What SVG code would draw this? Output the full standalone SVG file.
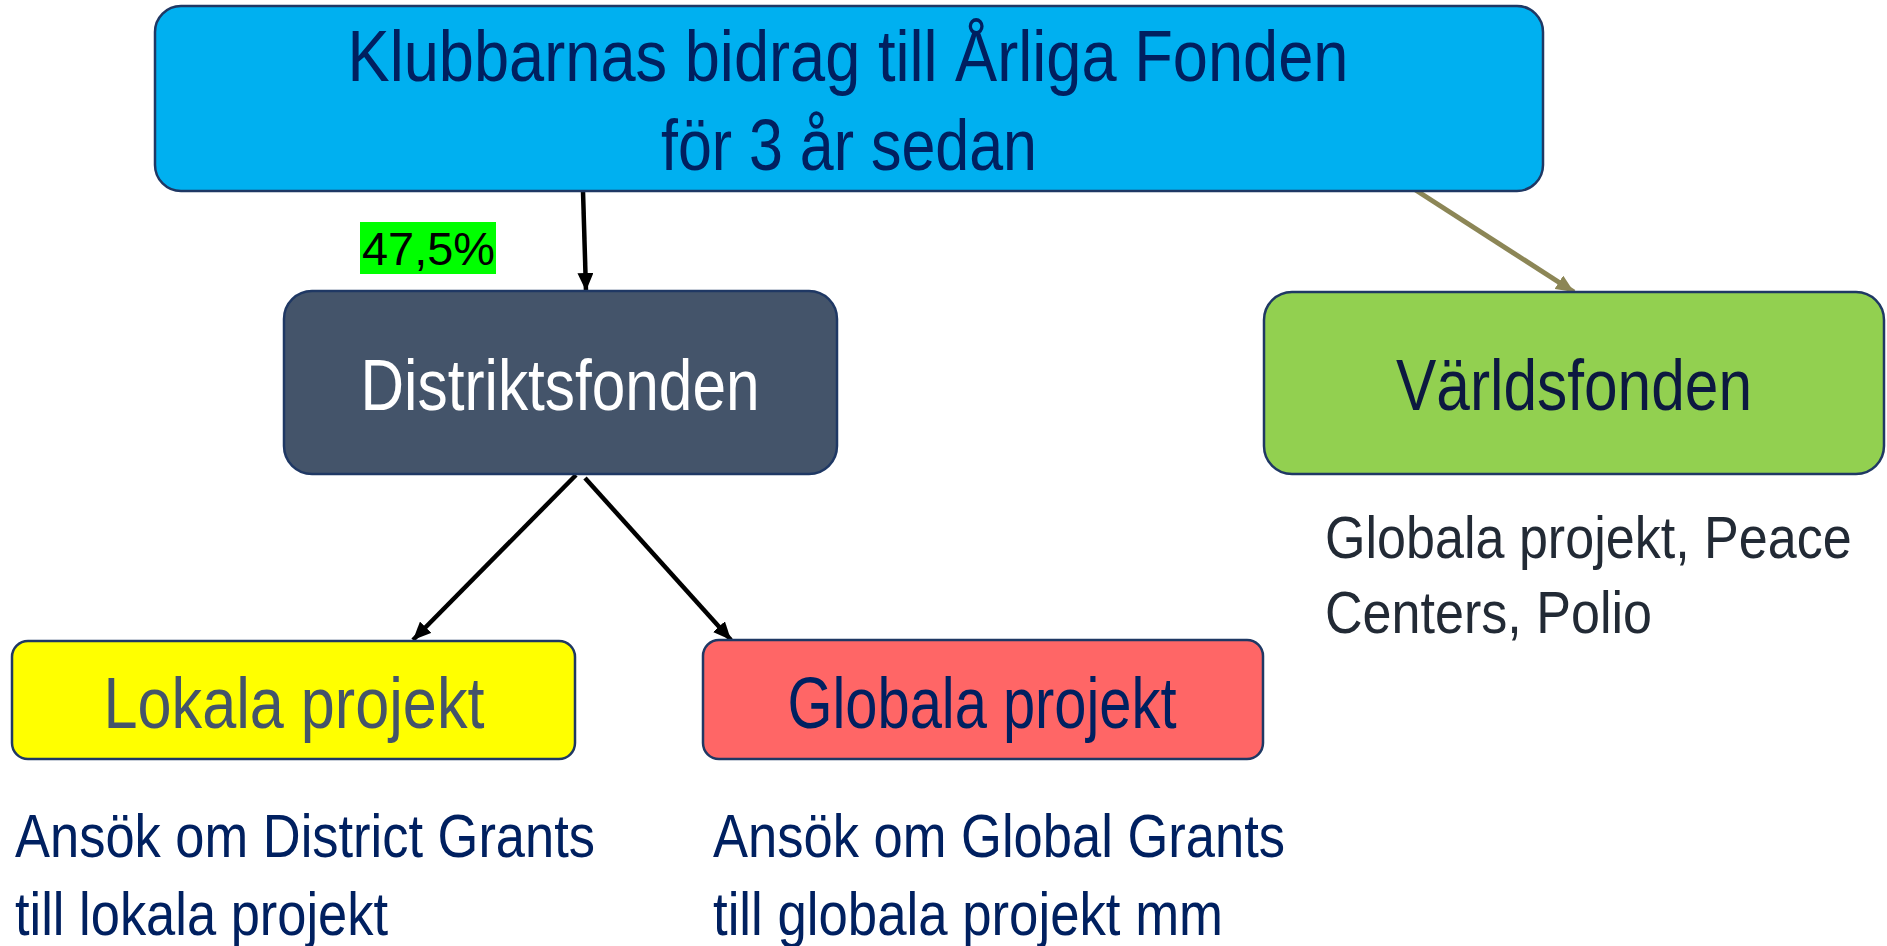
<svg xmlns="http://www.w3.org/2000/svg" width="1887" height="946" viewBox="0 0 1887 946">
<defs>
<style>
text{font-family:"Liberation Sans",Arial,sans-serif;}
.box{stroke:#1F3864;stroke-width:2.5;}
.big{font-size:72px;}
.sub{font-size:62px;fill:#002060;}
.conn{stroke:#000;stroke-width:4.5;fill:none;}
</style>
<marker id="ah" viewBox="0 0 18 16" refX="18" refY="8" markerWidth="18" markerHeight="16" markerUnits="userSpaceOnUse" orient="auto"><path d="M0,0 L18,8 L0,16 Z" fill="#000"/></marker>
<marker id="ah2" viewBox="0 0 18 16" refX="18" refY="8" markerWidth="18" markerHeight="16" markerUnits="userSpaceOnUse" orient="auto"><path d="M0,0 L18,8 L0,16 Z" fill="#8C8656"/></marker>
</defs>
<rect width="1887" height="946" fill="#fff"/>
<g id="connectors">
<line class="conn" x1="583" y1="191" x2="586" y2="291" marker-end="url(#ah)"/>
<line x1="1414" y1="189" x2="1574" y2="292" stroke="#8C8656" stroke-width="5" marker-end="url(#ah2)"/>
<line class="conn" x1="576" y1="475" x2="413" y2="640" marker-end="url(#ah)"/>
<line class="conn" x1="585" y1="478" x2="731" y2="640" marker-end="url(#ah)"/>
</g>
<g id="top">
<rect class="box" x="155" y="6" width="1388" height="185" rx="26" fill="#00B0F0"/>
<text x="848" y="81" text-anchor="middle" font-size="73" fill="#002060" textLength="1001" lengthAdjust="spacingAndGlyphs">Klubbarnas bidrag till Årliga Fonden</text>
<text x="849" y="170" text-anchor="middle" font-size="73" fill="#002060" textLength="376" lengthAdjust="spacingAndGlyphs">för 3 år sedan</text>
</g>
<g id="label475">
<rect x="360" y="222" width="136" height="52" fill="#00FF00"/>
<text x="362" y="265" font-size="46" fill="#000" textLength="133" lengthAdjust="spacingAndGlyphs">47,5%</text>
</g>
<g id="distriktsfonden">
<rect class="box" x="284" y="291" width="553" height="183" rx="28" fill="#44546A"/>
<text class="big" x="560" y="410" text-anchor="middle" fill="#fff" textLength="399" lengthAdjust="spacingAndGlyphs">Distriktsfonden</text>
</g>
<g id="varldsfonden">
<rect class="box" x="1264" y="292" width="620" height="182" rx="28" fill="#92D050"/>
<text class="big" x="1574" y="410" text-anchor="middle" fill="#0C1940" textLength="356" lengthAdjust="spacingAndGlyphs">Världsfonden</text>
</g>
<g id="lokala">
<rect class="box" x="12" y="641" width="563" height="118" rx="16" fill="#FFFF00"/>
<text class="big" x="294" y="728" text-anchor="middle" fill="#44546A" textLength="381" lengthAdjust="spacingAndGlyphs">Lokala projekt</text>
</g>
<g id="globala">
<rect class="box" x="703" y="640" width="560" height="119" rx="16" fill="#FF6666"/>
<text class="big" x="982" y="728" text-anchor="middle" fill="#002060" textLength="389" lengthAdjust="spacingAndGlyphs">Globala projekt</text>
</g>
<g id="texts">
<text class="sub" x="15" y="857" textLength="580" lengthAdjust="spacingAndGlyphs">Ansök om District Grants</text>
<text class="sub" x="15" y="935" textLength="373" lengthAdjust="spacingAndGlyphs">till lokala projekt</text>
<text class="sub" x="713" y="857" textLength="572" lengthAdjust="spacingAndGlyphs">Ansök om Global Grants</text>
<text class="sub" x="713" y="935" textLength="510" lengthAdjust="spacingAndGlyphs">till globala projekt mm</text>
<text transform="translate(1325,558) scale(0.868,1)" x="0" y="0" font-size="60" fill="#222A35">Globala projekt, Peace</text>
<text transform="translate(1325,633) scale(0.868,1)" x="0" y="0" font-size="60" fill="#222A35">Centers, Polio</text>
</g>
</svg>
